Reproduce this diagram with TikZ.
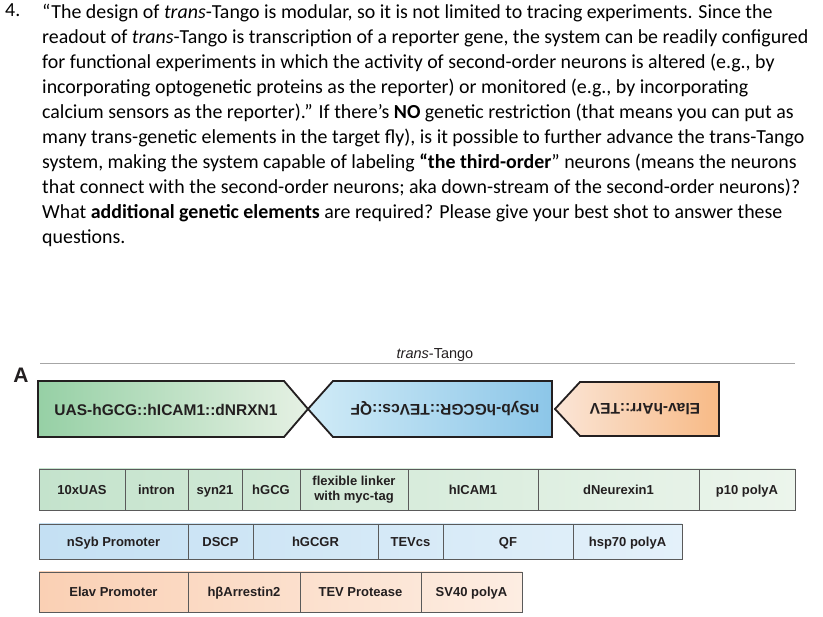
\documentclass[tikz,border=0pt]{standalone}
\usepackage{fontspec}
\setmainfont{Carlito}
\newfontfamily\figfont{Liberation Sans}
\usepackage{tikz}
\usetikzlibrary{positioning}
\definecolor{ink}{RGB}{35,31,32}
\definecolor{cellline}{RGB}{90,90,90}
\definecolor{green_dark}{RGB}{150,208,165}
\definecolor{green_light}{RGB}{230,241,228}
\definecolor{blue_light}{RGB}{208,235,247}
\definecolor{blue_dark}{RGB}{140,198,232}
\definecolor{orange_light}{RGB}{250,229,214}
\definecolor{orange_dark}{RGB}{248,186,134}
\definecolor{green_row}{RGB}{196,227,204}
\definecolor{green_row_end}{RGB}{236,245,236}
\definecolor{blue_row}{RGB}{196,224,243}
\definecolor{blue_row_end}{RGB}{228,241,250}
\definecolor{orange_row}{RGB}{250,208,180}
\definecolor{orange_row_end}{RGB}{253,237,226}
\tikzset{
    construct/.style={draw=ink, line width=1.8pt, line join=miter},
    label_text/.style={font=\figfont\fontsize{15.5}{18}\selectfont\bfseries, text=ink},
    cell/.style={rectangle, draw=cellline, line width=0.8pt, inner sep=0pt, text centered, align=center, font=\figfont\fontsize{13}{15}\selectfont\bfseries, text=ink},
    one_line/.style={text height=9.3pt, text depth=0pt},
    question/.style={anchor=north west, align=left, inner sep=0pt, font=\fontsize{19.9}{25}\selectfont}
}
\begin{document}
\begin{tikzpicture} [
    x=1pt, y=-1pt,
    bar1/.style={cell, one_line, minimum height=41pt},
    bar1_two/.style={cell, minimum height=41pt},
    bar2/.style={cell, one_line, minimum height=35pt},
    bar3/.style={cell, one_line, minimum height=40pt}
]
    \useasboundingbox (0,0) rectangle (823,617);

    % Question text
    \node[question] (q_number) at (5,4) {4.};
    \node[question] (q_text) at (42,4) {“The design of \textit{trans}-Tango is modular, so it is not limited to tracing experiments. Since the\\
readout of \textit{trans}-Tango is transcription of a reporter gene, the system can be readily configured\\
for functional experiments in which the activity of second-order neurons is altered (e.g., by\\
incorporating optogenetic proteins as the reporter) or monitored (e.g., by incorporating\\
calcium sensors as the reporter).” If there’s \textbf{NO} genetic restriction (that means you can put as\\
many trans-genetic elements in the target fly), is it possible to further advance the trans-Tango\\
system, making the system capable of labeling \textbf{“the third-order}” neurons (means the neurons\\
that connect with the second-order neurons; aka down-stream of the second-order neurons)?\\
What \textbf{additional genetic elements} are required? Please give your best shot to answer these\\
questions.};

    % Panel label and title
    \node[font=\figfont\fontsize{21}{24}\selectfont\bfseries, text=ink] (panel_a) at (21,375) {A};
    \node[font=\figfont\fontsize{14.5}{17}\selectfont, text=ink] (tango_title) at (435,355) {\textit{trans}-Tango};
    \coordinate (rule_start) at (40,364);
    \coordinate (rule_end) at (795,364);
    \draw[gray!70, line width=1pt] (rule_start) -- (rule_end);

    % Constructs
    \draw[construct, left color=green_dark, right color=green_light] (38,381) -- (284,381) -- (308,409) -- (284,437) -- (38,437) -- cycle;
    \draw[construct, left color=blue_light, right color=blue_dark] (552,381) -- (333,381) -- (308,409) -- (333,437) -- (552,437) -- cycle;
    \draw[construct, left color=orange_light, right color=orange_dark] (719,382) -- (580,382) -- (555,409) -- (580,436) -- (719,436) -- cycle;
    \node[label_text] (ligand_label) at (166,410) {UAS-hGCG::hICAM1::dNRXN1};
    \node[label_text, rotate=180] (receptor_label) at (445,409) {nSyb-hGCGR::TEVcs::QF};
    \node[label_text, rotate=180] (arrestin_label) at (645,409) {Elav-hArr::TEV};

    % Row backgrounds
    \shade[left color=green_row, right color=green_row_end] (39,469) rectangle (795,510);
    \shade[left color=blue_row, right color=blue_row_end] (39,524) rectangle (682,559);
    \shade[left color=orange_row, right color=orange_row_end] (39,572) rectangle (522,612);

    % Ligand construct
    \node[bar1, minimum width=86pt] (uas_cell) at (82,489.5) {10xUAS};
    \node[bar1, minimum width=63pt] (intron_cell) at (156.5,489.5) {intron};
    \node[bar1, minimum width=54pt] (syn21_cell) at (215,489.5) {syn21};
    \node[bar1, minimum width=58pt] (hgcg_cell) at (271,489.5) {hGCG};
    \node[bar1_two, minimum width=108pt] (linker_cell) at (354,489.5) {flexible linker\\with myc-tag};
    \node[bar1, minimum width=130pt] (hicam_cell) at (473,489.5) {hICAM1};
    \node[bar1, minimum width=161pt] (dnrxn_cell) at (618.5,489.5) {dNeurexin1};
    \node[bar1, minimum width=96pt] (p10_cell) at (747,489.5) {p10 polyA};

    % Receptor construct
    \node[bar2, minimum width=149pt] (nsyb_cell) at (113.5,541.5) {nSyb Promoter};
    \node[bar2, minimum width=65pt] (dscp_cell) at (220.5,541.5) {DSCP};
    \node[bar2, minimum width=125pt] (hgcgr_cell) at (315.5,541.5) {hGCGR};
    \node[bar2, minimum width=65pt] (tevcs_cell) at (410.5,541.5) {TEVcs};
    \node[bar2, minimum width=130pt] (qf_cell) at (508,541.5) {QF};
    \node[bar2, minimum width=109pt] (hsp70_cell) at (627.5,541.5) {hsp70 polyA};

    % Arrestin construct
    \node[bar3, minimum width=149pt] (elav_cell) at (113.5,592) {Elav Promoter};
    \node[bar3, minimum width=112pt] (harr_cell) at (244,592) {hβArrestin2};
    \node[bar3, minimum width=121pt] (tev_cell) at (360.5,592) {TEV Protease};
    \node[bar3, minimum width=101pt] (sv40_cell) at (471.5,592) {SV40 polyA};
\end{tikzpicture}
\end{document}
